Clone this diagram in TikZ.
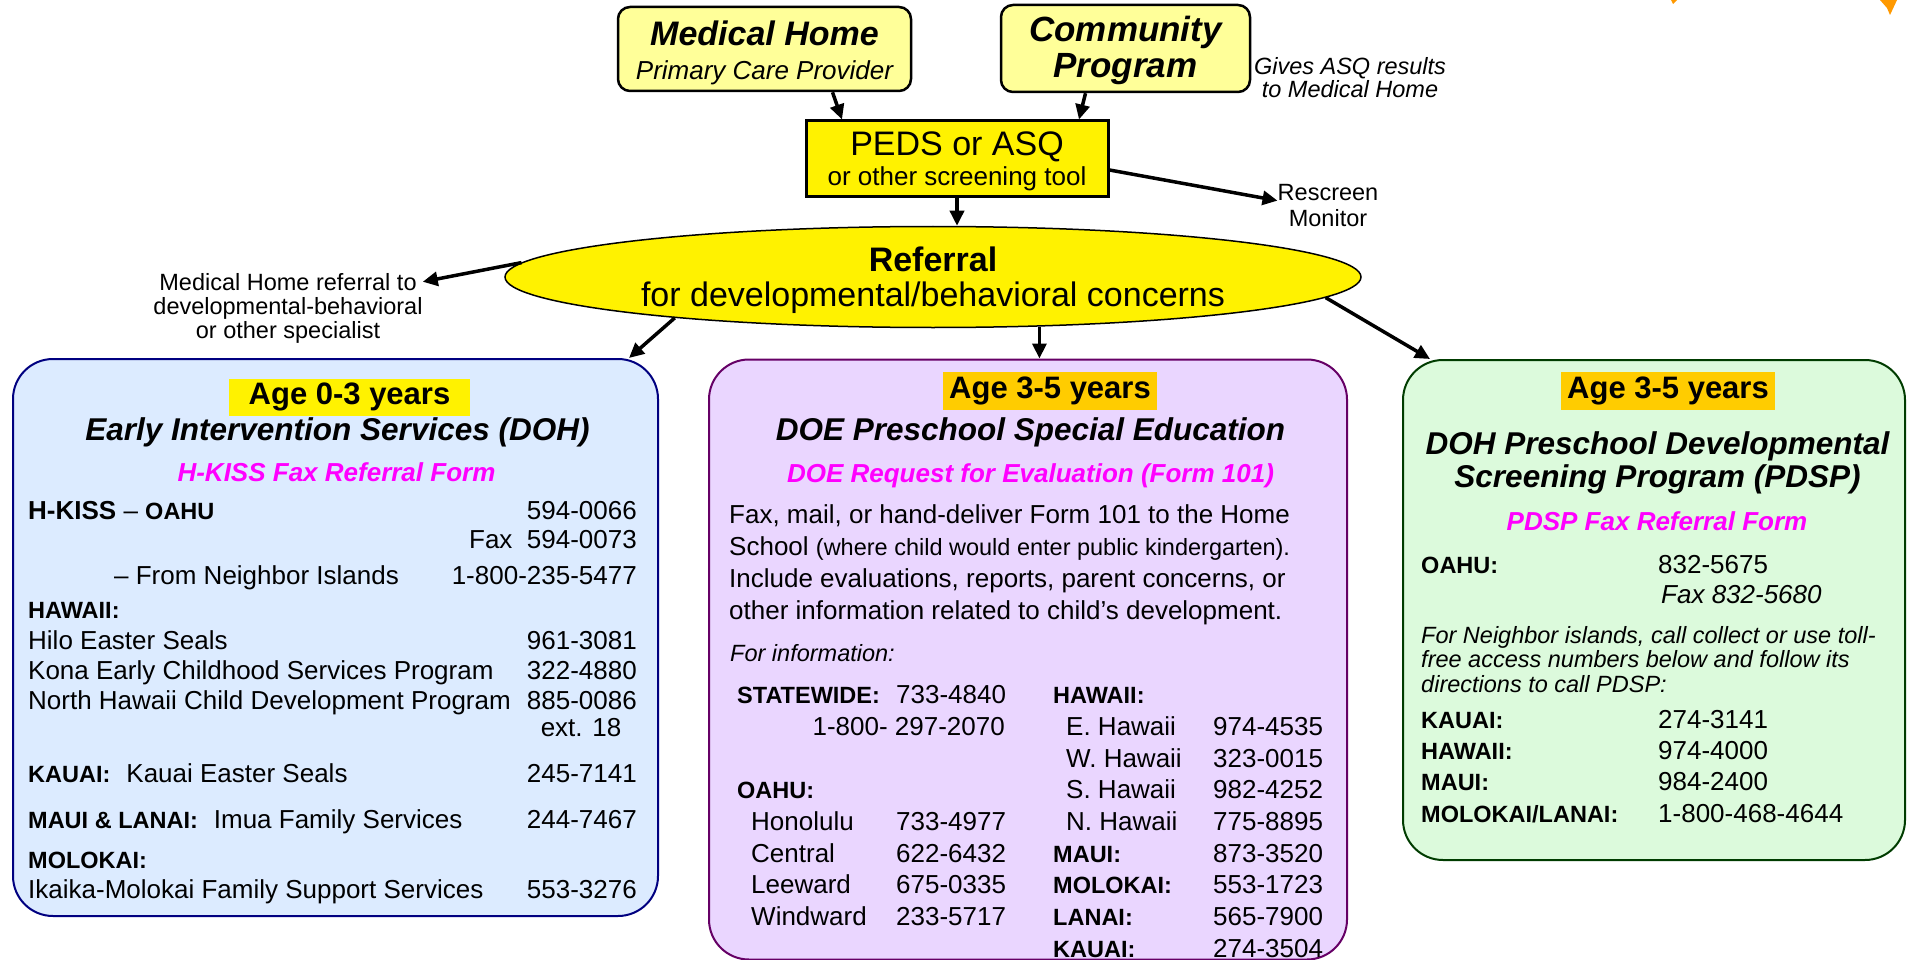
\documentclass[tikz,border=0pt]{standalone}
\usepackage{fontspec}
\setmainfont{Liberation Sans}
\usetikzlibrary{positioning,calc,shapes.geometric,arrows.meta}

\definecolor{paleyellow}{RGB}{255,255,153}
\definecolor{agegold}{RGB}{255,204,0}
\definecolor{formpink}{RGB}{255,0,255}
\definecolor{eifill}{RGB}{220,235,255}
\definecolor{eiline}{RGB}{0,0,128}
\definecolor{doefill}{RGB}{234,214,255}
\definecolor{doeline}{RGB}{102,0,102}
\definecolor{pdspfill}{RGB}{220,250,220}
\definecolor{pdspline}{RGB}{0,60,0}
\definecolor{logoorange}{RGB}{255,153,0}

\tikzset{
  every node/.style={inner sep=0pt},
  flowarrow/.style={line width=3.5pt, -{Triangle[length=15pt,width=14pt]}},
  topbox/.style={draw, line width=2.5pt, fill=paleyellow, rounded corners=12pt, align=center},
  bigbox/.style={draw, line width=2pt, rounded corners=40pt},
  agetag/.style={font=\fontsize{31}{31}\selectfont\bfseries, minimum width=214pt, minimum height=38pt},
  progtitle/.style={font=\fontsize{31.5}{33}\selectfont\bfseries\itshape, align=center, anchor=base},
  formlink/.style={font=\fontsize{26}{26}\selectfont\bfseries\itshape, text=formpink, anchor=base},
  entry/.style={font=\fontsize{26}{26}\selectfont, anchor=base west},
  phone/.style={font=\fontsize{26}{26}\selectfont, anchor=base east},
  islandlab/.style={font=\fontsize{23.5}{23.5}\selectfont\bfseries, anchor=base west},
  note/.style={font=\fontsize{23.5}{24}\selectfont, align=center, anchor=base},
}

\begin{document}
\begin{tikzpicture}[x=1pt,y=-1pt]
    \fill[white] (0,0) rectangle (1911,960);
    \useasboundingbox (0,0) rectangle (1911,960);

    % bits of the cut-off logo
    \fill[logoorange] (1671,0) -- (1677,0) -- (1673,4) -- cycle;
    \fill[logoorange] (1880,0) -- (1897,0) -- (1890,15) -- (1887,8) -- cycle;

    % screening and referral
    \node[topbox, minimum width=293pt, minimum height=84pt,
      font=\fontsize{34}{34}\selectfont, text height=66pt, text depth=4pt]
      (mhome) at (764.5,49)
      {\bfseries\itshape Medical Home\\\fontsize{26}{34}\selectfont\itshape Primary Care Provider};
    \node[topbox, minimum width=249pt, minimum height=87pt,
      font=\fontsize{35}{36}\selectfont\bfseries\itshape, text height=64pt, text depth=5pt]
      (commprog) at (1125.5,48.5) {Community\\Program};
    \node[note, font=\fontsize{23.5}{23}\selectfont\itshape] (givesnote) at (1350,98)
      {Gives ASQ results\\to Medical Home};
    \node[draw, line width=3pt, fill=yellow, minimum width=302pt, minimum height=76pt,
      align=center, font=\fontsize{34}{30}\selectfont, text height=58pt, text depth=4pt]
      (peds) at (957,159) {PEDS or ASQ\\\fontsize{26}{30}\selectfont or other screening tool};
    \node[note, font=\fontsize{23.5}{25}\selectfont] (rescreen) at (1328,226) {Rescreen\\Monitor};
    \node[ellipse, draw, line width=1.5pt, fill=yellow, minimum width=856pt, minimum height=101pt,
      align=center, font=\fontsize{34}{35}\selectfont, text height=63pt, text depth=5pt]
      (referral) at (933,277) {\textbf{Referral}\\for developmental/behavioral concerns};
    \node[note] (mhref) at (288,338)
      {Medical Home referral to\\developmental-behavioral\\or other specialist};

    % the three programs
    \node[bigbox, draw=eiline, fill=eifill, minimum width=645pt, minimum height=557pt]
      (eiBox) at (335.5,637.5) {};
    \node[bigbox, draw=doeline, fill=doefill, minimum width=638pt, minimum height=600pt]
      (doeBox) at (1028,659.5) {};
    \node[bigbox, draw=pdspline, fill=pdspfill, minimum width=502pt, minimum height=500pt]
      (pdspBox) at (1654,610) {};

    % arrows
    \draw[flowarrow] ([xshift=68pt]mhome.south) -- ([xshift=-115pt]peds.north);
    \draw[flowarrow] ([xshift=-40pt]commprog.south) -- ([xshift=122pt]peds.north);
    \draw[flowarrow] (peds.south) -- (peds.south |- referral.north);
    \draw[flowarrow] ([yshift=-11pt]peds.east) -- ([yshift=-16pt]rescreen.north west);
    \draw[flowarrow] (referral.178) -- ([yshift=-9pt]mhref.north east);
    \draw[flowarrow] (referral.189) -- ([xshift=-30pt]eiBox.north east);
    \draw[flowarrow] (referral.-25.9) -- (referral.-25.9 |- doeBox.north);
    \draw[flowarrow] (referral.-3) -- ([xshift=28pt]pdspBox.north west);

    % Early Intervention (DOH)
    \node[agetag, fill=yellow, minimum width=241pt, minimum height=37pt] (eiAge) at (349.5,397) {Age 0-3 years};
    \node[progtitle] (eiTitle) at (337.5,440) {Early Intervention Services (DOH)};
    \node[formlink] (eiForm) at (336.5,481) {H-KISS Fax Referral Form};
    \node[entry] (eiHkiss) at (28,519) {\textbf{H-KISS} -- {\fontsize{23.5}{23.5}\selectfont\bfseries OAHU}};
    \node[phone] (eiHkissNum) at (637,519) {594-0066};
    \node[phone] (eiHkissFax) at (637,548) {Fax\ \ 594-0073};
    \node[entry] (eiNeighbor) at (114,584) {-- From Neighbor Islands};
    \node[phone] (eiNeighborNum) at (637,584) {1-800-235-5477};
    \node[islandlab] (eiHawaii) at (28,618) {HAWAII:};
    \foreach \y/\name/\num [count=\i] in {
        649/Hilo Easter Seals/961-3081,
        679/Kona Early Childhood Services Program/322-4880,
        709/North Hawaii Child Development Program/885-0086,
        782/{{\fontsize{23.5}{23.5}\selectfont\bfseries KAUAI:}\hspace{16pt}Kauai Easter Seals}/245-7141,
        828/{{\fontsize{23.5}{23.5}\selectfont\bfseries MAUI \& LANAI:}\hspace{16pt}Imua Family Services}/244-7467,
        898/Ikaika-Molokai Family Support Services/553-3276}
      {
        \node[entry] (eiName\i) at (28,\y) {\name};
        \node[phone] (eiNum\i) at (637,\y) {\num};
      }
    \node[font=\fontsize{26}{26}\selectfont, anchor=base] (eiExt) at (581,736) {ext. 18};
    \node[islandlab] (eiMolokai) at (28,868) {MOLOKAI:};

    % DOE Preschool Special Education
    \node[agetag, fill=agegold] (doeAge) at (1050,391) {Age 3-5 years};
    \node[progtitle] (doeTitle) at (1030.5,440) {DOE Preschool Special Education};
    \node[formlink] (doeForm) at (1030.5,482) {DOE Request for Evaluation (Form 101)};
    \node[entry, align=left, font=\fontsize{26}{31.7}\selectfont] (doeText) at (729,619)
      {Fax, mail, or hand-deliver Form 101 to the Home\\
       School {\fontsize{23.5}{31.7}\selectfont(where child would enter public kindergarten).}\\
       Include evaluations, reports, parent concerns, or\\
       other information related to child’s development.};
    \node[entry, font=\fontsize{23.5}{23.5}\selectfont\itshape] (doeInfo) at (730,661) {For information:};
    \node[islandlab] (doeState) at (737,703) {STATEWIDE:};
    \node[entry] (doeStateNum) at (896,703) {733-4840};
    \node[phone] (doeStateFree) at (1005,735) {1-800- 297-2070};
    \node[islandlab] (doeOahu) at (737,798) {OAHU:};
    \foreach \y/\area/\num [count=\i] in {830/Honolulu/733-4977, 862/Central/622-6432,
        893/Leeward/675-0335, 925/Windward/233-5717}
      {
        \node[entry] (doeOahuArea\i) at (751,\y) {\area};
        \node[entry] (doeOahuNum\i) at (896,\y) {\num};
      }
    \node[islandlab] (doeHawaii) at (1053,703) {HAWAII:};
    \foreach \y/\area/\num [count=\i] in {735/E. Hawaii/974-4535, 767/W. Hawaii/323-0015,
        798/S. Hawaii/982-4252, 830/N. Hawaii/775-8895}
      {
        \node[entry] (doeHawaiiArea\i) at (1066,\y) {\area};
        \node[entry] (doeHawaiiNum\i) at (1213,\y) {\num};
      }
    \foreach \y/\isle/\num [count=\i] in {862/MAUI:/873-3520, 893/MOLOKAI:/553-1723,
        925/LANAI:/565-7900, 957/KAUAI:/274-3504}
      {
        \node[islandlab] (doeIsle\i) at (1053,\y) {\isle};
        \node[entry] (doeIsleNum\i) at (1213,\y) {\num};
      }

    % DOH Preschool Developmental Screening Program
    \node[agetag, fill=agegold] (pdspAge) at (1668,391) {Age 3-5 years};
    \node[progtitle] (pdspTitle) at (1657.5,487) {DOH Preschool Developmental\\Screening Program (PDSP)};
    \node[formlink] (pdspForm) at (1657,530) {PDSP Fax Referral Form};
    \node[islandlab] (pdspOahu) at (1421,573) {OAHU:};
    \node[entry] (pdspOahuNum) at (1658,573) {832-5675};
    \node[entry, font=\fontsize{26}{26}\selectfont\itshape] (pdspOahuFax) at (1661,603) {Fax 832-5680};
    \node[entry, align=left, font=\fontsize{23.5}{24.5}\selectfont\itshape] (pdspNote) at (1421,692)
      {For Neighbor islands, call collect or use toll-\\
       free access numbers below and follow its\\
       directions to call PDSP:};
    \foreach \y/\isle/\num [count=\i] in {728/KAUAI:/274-3141, 759/HAWAII:/974-4000,
        790/MAUI:/984-2400, 822/{MOLOKAI/LANAI:}/1-800-468-4644}
      {
        \node[islandlab] (pdspIsle\i) at (1421,\y) {\isle};
        \node[entry] (pdspIsleNum\i) at (1658,\y) {\num};
      }
\end{tikzpicture}
\end{document}
